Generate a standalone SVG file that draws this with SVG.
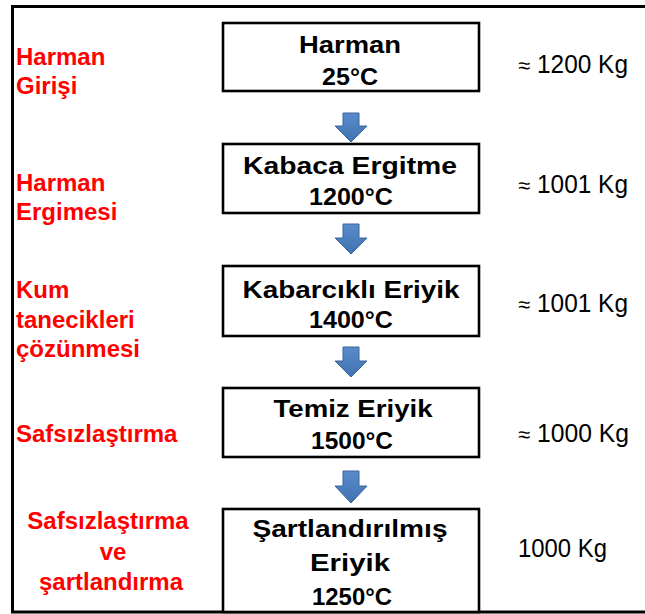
<svg xmlns="http://www.w3.org/2000/svg" width="645" height="614" viewBox="0 0 645 614">
<defs>
<style>
.frame{fill:none;stroke:#000;stroke-width:3}
.box{fill:#fff;stroke:#000;stroke-width:2.6}
.bt{font-family:"Liberation Sans",Arial,sans-serif;font-weight:bold;font-size:24px;fill:#000;text-anchor:middle}
.red{font-family:"Liberation Sans",Arial,sans-serif;font-weight:bold;font-size:24px;fill:#ff0000}
.redc{text-anchor:middle}
.kg{font-family:"Liberation Sans",Arial,sans-serif;font-size:25px;fill:#000}
.ap{font-size:22px}
.arrow{fill:url(#ag);stroke:#3a6598;stroke-width:1}
</style>
<linearGradient id="ag" x1="0" y1="0" x2="0" y2="1">
<stop offset="0" stop-color="#5a8ccc"/>
<stop offset="1" stop-color="#3f72b0"/>
</linearGradient>
</defs>
<rect width="645" height="614" fill="#fff"/>
<rect class="frame" x="12.5" y="6.5" width="700" height="605.5"/>

<g id="connectors">
<path class="arrow" d="M343,113 H359 V126 H367 L351,142 L335,126 H343 Z"/>
<path class="arrow" d="M343,224 H359 V238 H367 L351,254 L335,238 H343 Z"/>
<path class="arrow" d="M343,347 H359 V361 H367 L351,377 L335,361 H343 Z"/>
<path class="arrow" d="M343,471 H359 V486 H367 L351,503 L335,486 H343 Z"/>
</g>

<g id="node1">
<rect class="box" x="223" y="23" width="256" height="68"/>
<text class="bt" x="350" y="53" textLength="102" lengthAdjust="spacingAndGlyphs">Harman</text>
<text class="bt" x="350" y="85" textLength="56" lengthAdjust="spacingAndGlyphs">25°C</text>
</g>
<g id="node2">
<rect class="box" x="223" y="144" width="256" height="69"/>
<text class="bt" x="350" y="174" textLength="214" lengthAdjust="spacingAndGlyphs">Kabaca Ergitme</text>
<text class="bt" x="351" y="205" textLength="84" lengthAdjust="spacingAndGlyphs">1200°C</text>
</g>
<g id="node3">
<rect class="box" x="223" y="266" width="256" height="70"/>
<text class="bt" x="351" y="298" textLength="217" lengthAdjust="spacingAndGlyphs">Kabarcıklı Eriyik</text>
<text class="bt" x="351" y="328" textLength="84" lengthAdjust="spacingAndGlyphs">1400°C</text>
</g>
<g id="node4">
<rect class="box" x="223" y="388" width="256" height="69"/>
<text class="bt" x="353" y="417" textLength="159" lengthAdjust="spacingAndGlyphs">Temiz Eriyik</text>
<text class="bt" x="352" y="449" textLength="82" lengthAdjust="spacingAndGlyphs">1500°C</text>
</g>
<g id="node5">
<rect class="box" x="223" y="509" width="256" height="103"/>
<text class="bt" x="350" y="537" textLength="195" lengthAdjust="spacingAndGlyphs">Şartlandırılmış</text>
<text class="bt" x="350" y="571" textLength="80" lengthAdjust="spacingAndGlyphs">Eriyik</text>
<text class="bt" x="352" y="605" textLength="80" lengthAdjust="spacingAndGlyphs">1250°C</text>
</g>

<g id="left-labels">
<text class="red" x="16" y="65">Harman</text>
<text class="red" x="16" y="94">Girişi</text>
<text class="red" x="16" y="191">Harman</text>
<text class="red" x="16" y="220">Ergimesi</text>
<text class="red" x="16" y="298">Kum</text>
<text class="red" x="16" y="328">tanecikleri</text>
<text class="red" x="16" y="357">çözünmesi</text>
<text class="red" x="16" y="442">Safsızlaştırma</text>
<text class="red redc" x="108" y="529">Safsızlaştırma</text>
<text class="red redc" x="113" y="560">ve</text>
<text class="red redc" x="111" y="590">şartlandırma</text>
</g>

<g id="right-labels">
<text class="kg" x="518" y="73"><tspan class="ap">≈</tspan><tspan x="537" textLength="91" lengthAdjust="spacingAndGlyphs">1200 Kg</tspan></text>
<text class="kg" x="518" y="193"><tspan class="ap">≈</tspan><tspan x="537" textLength="91" lengthAdjust="spacingAndGlyphs">1001 Kg</tspan></text>
<text class="kg" x="518" y="312"><tspan class="ap">≈</tspan><tspan x="537" textLength="91" lengthAdjust="spacingAndGlyphs">1001 Kg</tspan></text>
<text class="kg" x="518" y="442"><tspan class="ap">≈</tspan><tspan x="537" textLength="92" lengthAdjust="spacingAndGlyphs">1000 Kg</tspan></text>
<text class="kg" x="518" y="557" textLength="89" lengthAdjust="spacingAndGlyphs">1000 Kg</text>
</g>
</svg>
